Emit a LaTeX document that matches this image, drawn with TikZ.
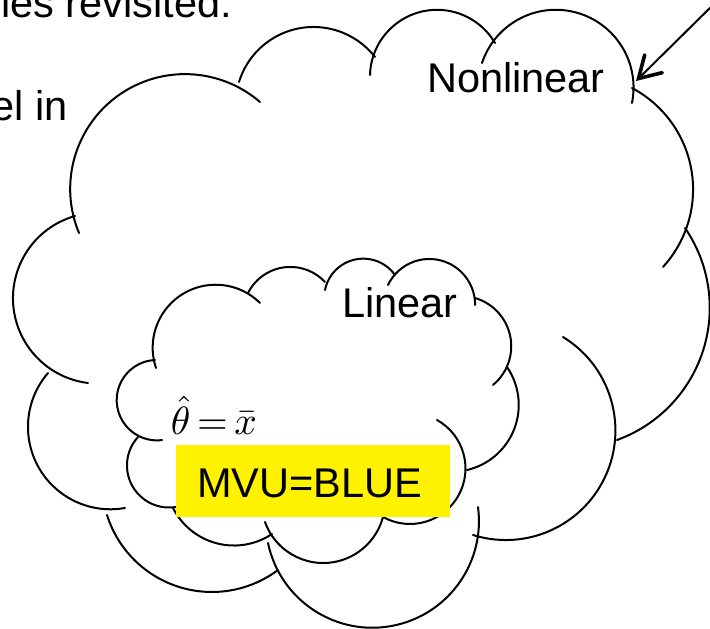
\documentclass[tikz,border=0pt]{standalone}
\usepackage{fontspec}
\setmainfont{Liberation Sans}
\usetikzlibrary{arrows.meta}

\tikzset{
  lobe/.style={draw=black, line width=2pt, line cap=round},
  label/.style={inner sep=0pt, font=\fontsize{41.5}{48}\selectfont},
  formula/.style={inner sep=0pt, scale=3.95},
  hilite/.style={fill=yellow, draw=none, minimum width=274pt, minimum height=72pt, inner sep=0pt},
  pointer/.style={line width=2pt, -{Straight Barb[length=21pt, width=25pt, line width=3.6pt, line cap=round]}}
}

% One lobe of a cloud: the circular arc that starts at the first point,
% passes through the second and ends at the third (coordinates in px).
\newcommand\lobearc[6]{%
  \pgfmathsetmacro\lax{#1/100}\pgfmathsetmacro\lay{#2/100}%
  \pgfmathsetmacro\lbx{#3/100}\pgfmathsetmacro\lby{#4/100}%
  \pgfmathsetmacro\lcx{#5/100}\pgfmathsetmacro\lcy{#6/100}%
  \pgfmathsetmacro\ldd{2*(\lax*(\lby-\lcy)+\lbx*(\lcy-\lay)+\lcx*(\lay-\lby))}%
  \pgfmathsetmacro\lsa{\lax*\lax+\lay*\lay}%
  \pgfmathsetmacro\lsb{\lbx*\lbx+\lby*\lby}%
  \pgfmathsetmacro\lsc{\lcx*\lcx+\lcy*\lcy}%
  \pgfmathsetmacro\lux{(\lsa*(\lby-\lcy)+\lsb*(\lcy-\lay)+\lsc*(\lay-\lby))/\ldd}%
  \pgfmathsetmacro\luy{(\lsa*(\lcx-\lbx)+\lsb*(\lax-\lcx)+\lsc*(\lbx-\lax))/\ldd}%
  \pgfmathsetmacro\lrr{veclen(\lax-\lux,\lay-\luy)}%
  \pgfmathsetmacro\lta{atan2(\lay-\luy,\lax-\lux)}%
  \pgfmathsetmacro\ltb{atan2(\lby-\luy,\lbx-\lux)}%
  \pgfmathsetmacro\ltc{atan2(\lcy-\luy,\lcx-\lux)}%
  \pgfmathsetmacro\lee{Mod(\ltc-\lta,360)}%
  \pgfmathsetmacro\lmm{Mod(\ltb-\lta,360)}%
  \pgfmathsetmacro\lend{\lmm<\lee ? \lta+\lee : \lta+\lee-360}%
  \draw[lobe] (#1,#2) arc[start angle=\lta, end angle=\lend, radius=100*\lrr];%
}

\begin{document}
\begin{tikzpicture}[x=1pt, y=-1pt]
\useasboundingbox (0,0) rectangle (710,629);

% text fragments at the upper left
\node[label, anchor=base east] (head) at (232,17) {ies revisited:};
\node[label, anchor=base east] (side) at (68,120) {el in};

% outer cloud
\lobearc{79}{233}{110}{102}{260}{102}
\lobearc{239}{82}{315}{27}{375}{57}
\lobearc{370}{75}{432}{10}{495}{43}
\lobearc{482}{63}{550}{10}{632}{103}
\lobearc{632}{88}{693}{185}{663}{267}
\lobearc{685}{228}{706}{340}{617}{440}
\lobearc{563}{337}{615}{440}{473}{535}
\lobearc{268}{543}{360}{627}{478}{507}
\lobearc{107}{515}{213}{592}{278}{570}
\lobearc{48}{373}{30}{445}{125}{508}
\lobearc{75}{216}{13}{300}{88}{383}

% inner cloud
\lobearc{260}{303}{177}{298}{156}{368}
\lobearc{248}{293}{293}{267}{325}{282}
\lobearc{325}{290}{358}{259}{395}{275}
\lobearc{388}{285}{430}{259}{475}{305}
\lobearc{475}{298}{510}{335}{493}{385}
\lobearc{507}{367}{517}{420}{467}{470}
\lobearc{437}{420}{463}{485}{383}{517}
\lobearc{265}{522}{323}{563}{383}{517}
\lobearc{173}{508}{207}{540}{272}{534}
\lobearc{138}{437}{127}{467}{176}{507}
\lobearc{155}{360}{117}{405}{162}{440}

% labels of the two regions
\node[label, anchor=base west] (nonlin) at (427,92) {Nonlinear};
\node[label, anchor=base west] (lin) at (342,317) {Linear};

% estimator and highlighted equality
\node[formula, anchor=base west] (est) at (170,434) {$\hat{\theta}\mkern-2mu=\mkern-2mu\bar{x}$};
\node[hilite, anchor=north west] (box) at (176,445) {};
\node[label, anchor=base west] (mvu) at (197,497) {MVU=BLUE};

% pointer into the outer cloud
\coordinate (tail) at (716,2);
\coordinate (tip) at (636,81);
\draw[pointer] (tail) -- (tip);
\end{tikzpicture}
\end{document}
